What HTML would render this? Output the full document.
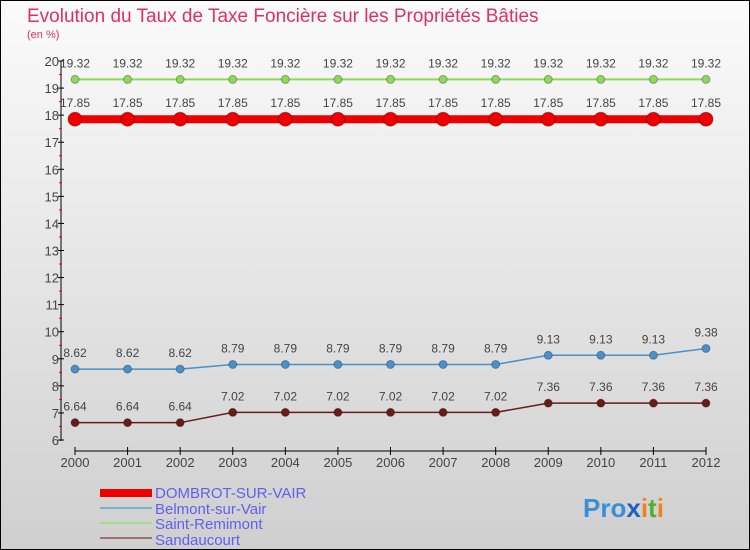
<!DOCTYPE html>
<html><head><meta charset="utf-8"><style>
body{margin:0;width:750px;height:550px;overflow:hidden;font-family:"Liberation Sans",sans-serif}
#c{position:absolute;left:0;top:0;width:748px;height:548px;border:1px solid #000;background:linear-gradient(#fbfbfb,#cfcfcf)}
</style></head><body>
<div id="c">
<svg width="750" height="550" style="position:absolute;left:-1px;top:-1px">
<text x="27" y="22" font-size="19" fill="#e03060">Evolution du Taux de Taxe Foncière sur les Propriétés Bâties</text>
<text x="27" y="38" font-size="11" fill="#e03060">(en %)</text>
<g id="axes"></g><g id="series"></g>
<g>
<rect x="100" y="489" width="52" height="8" fill="#e00"/>
<text x="155" y="498" font-size="15" fill="#6060ee">DOMBROT-SUR-VAIR</text>
<line x1="100" y1="508" x2="152" y2="508" stroke="#7aaed0" stroke-width="2"/>
<text x="155" y="514" font-size="15" fill="#6060ee">Belmont-sur-Vair</text>
<line x1="100" y1="523" x2="152" y2="523" stroke="#a0e080" stroke-width="2"/>
<text x="155" y="529" font-size="15" fill="#6060ee">Saint-Remimont</text>
<line x1="100" y1="538" x2="152" y2="538" stroke="#a07070" stroke-width="2"/>
<text x="155" y="545" font-size="15" fill="#6060ee">Sandaucourt</text>
</g>
<text x="583" y="517" font-size="26" font-weight="bold"><tspan fill="#3a8ed8">Pro</tspan><tspan fill="#2060c0">x</tspan><tspan fill="#f08020">i</tspan><tspan fill="#50b030">t</tspan><tspan fill="#f08020">i</tspan></text>
</svg></div>
<script>
const years=[2000,2001,2002,2003,2004,2005,2006,2007,2008,2009,2010,2011,2012];
const dombrot=[17.85,17.85,17.85,17.85,17.85,17.85,17.85,17.85,17.85,17.85,17.85,17.85,17.85];
const belmont=[8.62,8.62,8.62,8.79,8.79,8.79,8.79,8.79,8.79,9.13,9.13,9.13,9.38];
const saintRemimont=[19.32,19.32,19.32,19.32,19.32,19.32,19.32,19.32,19.32,19.32,19.32,19.32,19.32];
const sandaucourt=[6.64,6.64,6.64,7.02,7.02,7.02,7.02,7.02,7.02,7.36,7.36,7.36,7.36];
const yTicks=[6,7,8,9,10,11,12,13,14,15,16,17,18,19,20];
const NS="http://www.w3.org/2000/svg";
const xs=i=>75+i*(706-75)/(years.length-1);
const ys=v=>440-(v-6)*(440-61)/14;
function mk(t,a,p){const e=document.createElementNS(NS,t);for(const k in a)e.setAttribute(k,a[k]);p.appendChild(e);return e;}
const ax=document.getElementById('axes'),se=document.getElementById('series');
let l=mk('line',{x1:61,y1:61,x2:61,y2:441,stroke:'#000'},ax);


yTicks.forEach(v=>{
 mk('line',{x1:58,y1:ys(v),x2:64,y2:ys(v),stroke:'#000'},ax);
 if(v<20)mk('line',{x1:59,y1:ys(v+0.5),x2:62,y2:ys(v+0.5),stroke:'#e00'},ax);
 const t=mk('text',{x:59,y:ys(v)+5,'font-size':13,fill:'#444','text-anchor':'end'},ax);t.textContent=v;
 
 
});
l=mk('line',{x1:75,y1:451,x2:706,y2:451,stroke:'#000'},ax);


years.forEach((y,i)=>{
 mk('line',{x1:xs(i),y1:447,x2:xs(i),y2:455,stroke:'#000'},ax);
 const t=mk('text',{x:xs(i),y:467,'font-size':13,fill:'#444','text-anchor':'middle'},ax);t.textContent=y;
 
 
});
function series(d,col,w,r,name){
 const g=mk('g',{},se);
 
 
 mk('polyline',{points:d.map((v,i)=>xs(i)+','+ys(v)).join(' '),fill:'none',stroke:col,'stroke-width':w},g);
 d.forEach((v,i)=>{
  const c=mk('circle',{cx:xs(i),cy:ys(v),r:r,fill:col,stroke:'rgba(0,0,0,0.3)'},g);
  
  
  const t=mk('text',{x:xs(i),y:ys(v)-12,'font-size':12,fill:'#444','text-anchor':'middle'},g);t.textContent=v;
  
  
 });
}
series(saintRemimont,'#8ed85a',2,4,'saint-remimont');
series(dombrot,'#e00',8,7,'dombrot');
series(belmont,'#4a90cc',1.5,4,'belmont');
series(sandaucourt,'#6a1a1a',1.5,4,'sandaucourt');
</script></body></html>
